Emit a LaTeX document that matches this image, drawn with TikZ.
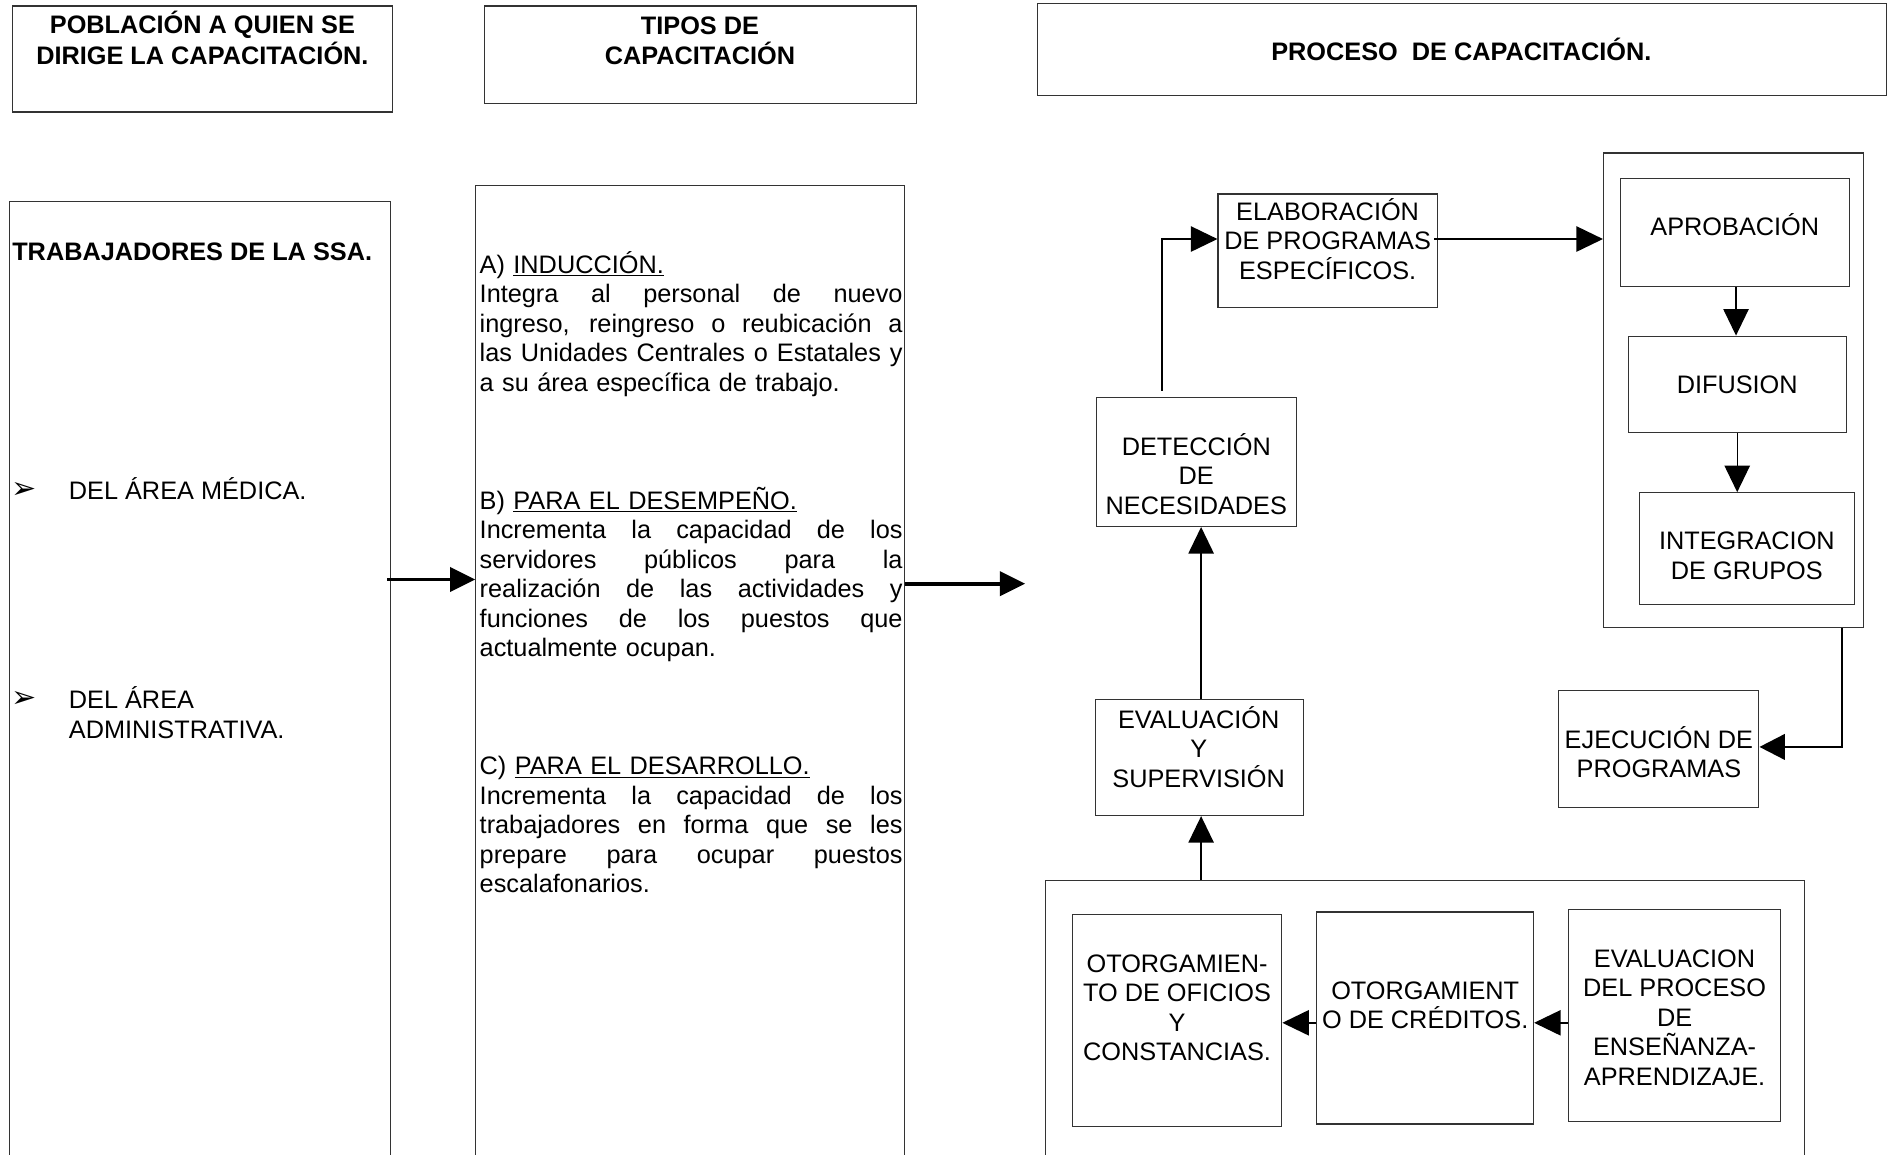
\documentclass[tikz,border=0pt]{standalone}
\usepackage{fontspec}
\setmainfont{Liberation Sans}
\newfontfamily\dejavu{DejaVu Sans}
\usetikzlibrary{arrows.meta,fit}
\newcommand\jl[1]{\makebox[351pt][s]{\spaceskip=\fontdimen2\font plus 1fil\relax\xspaceskip=\spaceskip #1}}
\newcommand\mkbox[3]{\node[box, fit={#2 #3}] (#1) {};}
\tikzset{
  box/.style={draw=black!80, line width=0.9pt, inner sep=0pt},
  txt/.style={inner sep=0pt, align=center, font=\fontsize{21}{24.5}\selectfont},
  btxt/.style={inner sep=0pt, align=center, font=\bfseries\fontsize{21}{25}\selectfont},
  ltxt/.style={inner sep=0pt, align=left, font=\fontsize{21}{24.5}\selectfont},
  bul/.style={inner sep=0pt, font=\dejavu\fontsize{25}{26}\selectfont},
  thinarr/.style={line width=1.2pt, -{Triangle[length=22pt,width=21pt]}},
  bigarr/.style={line width=3.2pt, -{Triangle[length=21pt,width=20pt]}},
  medarr/.style={line width=2.2pt, -{Triangle[length=21pt,width=21pt]}},
}
\begin{document}
\begin{tikzpicture}[x=1pt,y=-1pt]
\useasboundingbox (0,0) rectangle (1568,958);
\clip (0,0) rectangle (1568,958);
\fill[white] (0,0) rectangle (1568,958);

% header boxes
\mkbox{h1}{(10,5)}{(326,93)}
\mkbox{h2}{(402,5)}{(761,86)}
\mkbox{h3}{(861,3)}{(1566,79)}
\node[btxt] (h1t) at (168,31.5) {POBLACIÓN A QUIEN SE\\DIRIGE LA CAPACITACIÓN.};
\node[btxt] (h2t) at (581,33.5) {TIPOS DE\\CAPACITACIÓN};
\node[btxt, anchor=base] (h3t) at (1213,50.5) {PROCESO\ \ DE CAPACITACIÓN.};

% columns
\mkbox{lcol}{(8,167)}{(324,965)}
\mkbox{mcol}{(395,154)}{(751,965)}

% left column text
\node[inner sep=0pt, anchor=base west, font=\bfseries\fontsize{21}{24.5}\selectfont] (lt1) at (10,216.5) {TRABAJADORES DE LA SSA.};
\node[bul, anchor=base west] (lb1) at (9,413.5) {➢};
\node[ltxt, anchor=base west] (lt2) at (57,414.5) {DEL ÁREA MÉDICA.};
\node[bul, anchor=base west] (lb2) at (9,587) {➢};
\node[ltxt, anchor=north west] (lt3) at (57,568) {\rule{0pt}{20pt}DEL ÁREA\\ADMINISTRATIVA.};

% middle column text
\node[inner sep=0pt, anchor=north west, text width=351pt, align=left, font=\fontsize{21}{24.5}\selectfont] (mtxt) at (398,206.5) {\rule{0pt}{20pt}A) \underline{INDUCCIÓN.}\\
\jl{Integra al personal de nuevo}\\
\jl{ingreso, reingreso o reubicación a}\\
\jl{las Unidades Centrales o Estatales y}\\
a su área específica de trabajo.\\[73.5pt]
B) \underline{PARA EL DESEMPEÑO.}\\
\jl{Incrementa la capacidad de los}\\
\jl{servidores públicos para la}\\
\jl{realización de las actividades y}\\
\jl{funciones de los puestos que}\\
actualmente ocupan.\\[73.5pt]
C) \underline{PARA EL DESARROLLO.}\\
\jl{Incrementa la capacidad de los}\\
\jl{trabajadores en forma que se les}\\
\jl{prepare para ocupar puestos}\\
escalafonarios.};

% process boxes
\mkbox{elab}{(1011,161)}{(1193,255)}
\mkbox{grp}{(1331,127)}{(1547,521)}
\mkbox{aprob}{(1345,148)}{(1535,238)}
\mkbox{dif}{(1352,279)}{(1533,359)}
\mkbox{integ}{(1361,409)}{(1539,502)}
\mkbox{det}{(910,330)}{(1076,437)}
\mkbox{eval}{(909,581)}{(1082,677)}
\mkbox{ejec}{(1294,573)}{(1460,670)}
\mkbox{bgrp}{(868,731)}{(1498,965)}
\mkbox{ofi}{(890,759)}{(1064,935)}
\mkbox{cred}{(1093,757)}{(1273,933)}
\mkbox{evp}{(1302,755)}{(1478,931)}

\node[txt] (elabt) at (1102,198.5) {ELABORACIÓN\\DE PROGRAMAS\\ESPECÍFICOS.};
\node[txt, anchor=base] (aprobt) at (1440,195.5) {APROBACIÓN};
\node[txt, anchor=base] (dift) at (1442,326.5) {DIFUSION};
\node[txt] (integt) at (1450,461.5) {INTEGRACION\\DE GRUPOS};
\node[txt] (dett) at (993,393.5) {DETECCIÓN\\DE\\NECESIDADES};
\node[txt] (evalt) at (995,620) {EVALUACIÓN\\Y\\SUPERVISIÓN};
\node[txt] (eject) at (1377,624.5) {EJECUCIÓN DE\\PROGRAMAS};
\node[txt] (ofit) at (977,836.5) {OTORGAMIEN-\\TO DE OFICIOS\\Y\\CONSTANCIAS.};
\node[txt] (credt) at (1183,834.5) {OTORGAMIENT\\O DE CRÉDITOS.};
\node[txt] (evpt) at (1390,844.5) {EVALUACION\\DEL PROCESO\\DE\\ENSEÑANZA-\\APRENDIZAJE.};

% helper coordinates
\coordinate (yA) at (0,481);
\coordinate (yB) at (0,484.5);
\coordinate (midtip) at (851,484.5);
\coordinate (yE) at (0,198.4);
\coordinate (xd) at (964.6,0);
\coordinate (xa) at (1441,0);
\coordinate (xb) at (1442,0);
\coordinate (xc) at (997,0);
\coordinate (xj) at (1529,0);
\coordinate (yJ) at (0,620);
\coordinate (yO) at (0,849);

% connectors
\draw[bigarr] ([xshift=-3pt]lcol.east |- yA) -- (mcol.west |- yA);
\draw[bigarr] (mcol.east |- yB) -- (midtip);
\draw[thinarr] ([yshift=5pt]det.north -| xd) |- (elab.west |- yE);
\draw[thinarr] ([xshift=-3pt]elab.east |- yE) -- (grp.west |- yE);
\draw[thinarr] (aprob.south -| xa) -- (dif.north -| xa);
\draw[thinarr] (dif.south -| xb) -- (integ.north -| xb);
\draw[thinarr] (eval.north -| xc) -- (det.south -| xc);
\draw[thinarr] (bgrp.north -| xc) -- (eval.south -| xc);
\draw[medarr] (grp.south -| xj) |- (ejec.east |- yJ);
\draw[thinarr] (evp.west |- yO) -- (cred.east |- yO);
\draw[thinarr] (cred.west |- yO) -- (ofi.east |- yO);
\end{tikzpicture}
\end{document}
